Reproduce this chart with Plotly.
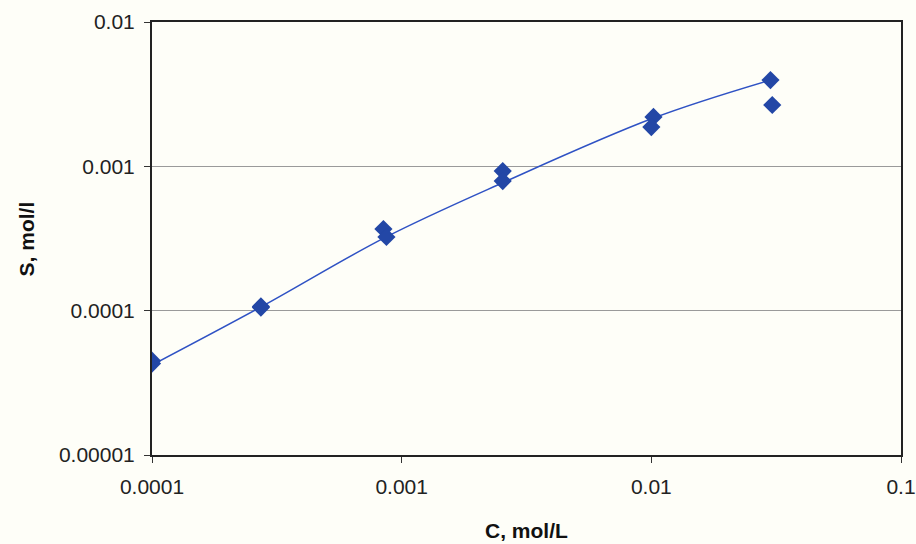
import plotly.graph_objects as go

# measured data points
c_points = [1.0e-4, 1.0e-4, 2.73e-4, 2.73e-4, 8.45e-4, 8.69e-4, 2.54e-3, 2.54e-3, 1.02e-2, 1.0e-2, 3.0e-2, 3.05e-2]
s_points = [4.5e-5, 4.3e-5, 1.07e-4, 1.05e-4, 3.68e-4, 3.24e-4, 9.27e-4, 7.91e-4, 2.20e-3, 1.87e-3, 3.96e-3, 2.66e-3]

# fitted curve
c_line = [1.0e-4, 2.73e-4, 8.6e-4, 2.54e-3, 1.02e-2, 3.0e-2]
s_line = [4.2e-5, 1.06e-4, 3.22e-4, 7.7e-4, 2.16e-3, 3.96e-3]

x_tickvals = [1e-4, 1e-3, 1e-2, 1e-1]
x_ticktext = ["0.0001", "0.001", "0.01", "0.1"]
y_tickvals = [1e-5, 1e-4, 1e-3, 1e-2]
y_ticktext = ["0.00001", "0.0001", "0.001", "0.01"]

fig = go.Figure()
fig.add_trace(go.Scatter(x=c_line, y=s_line, mode="lines",
                         line=dict(color="#2f52c4", width=1.5, shape="spline"),
                         showlegend=False, hoverinfo="skip"))
fig.add_trace(go.Scatter(x=c_points, y=s_points, mode="markers",
                         marker=dict(symbol="diamond", size=14, color="#2347a6"),
                         showlegend=False))

fam = "Liberation Sans, Arial, sans-serif"
axis_font = dict(family=fam, size=21, color="#222")
fig.update_layout(
    width=916, height=544,
    margin=dict(l=152, r=15, t=22, b=89),
    paper_bgcolor="#fefef8", plot_bgcolor="#fefef8",
    font=axis_font,
    xaxis=dict(type="log", range=[-4, -1], tickvals=x_tickvals, ticktext=x_ticktext,
               showgrid=False, ticks="outside", ticklen=6, tickcolor="#333",
               showline=True, linecolor="#222", linewidth=2, mirror=True,
               zeroline=False, tickfont=axis_font, automargin=False,
               ticklabelstandoff=6),
    yaxis=dict(type="log", range=[-5, -2], tickvals=y_tickvals, ticktext=y_ticktext,
               showgrid=True, gridcolor="#9a9a9a", gridwidth=1,
               ticks="outside", ticklen=6, tickcolor="#333",
               showline=True, linecolor="#222", linewidth=2, mirror=True,
               zeroline=False, tickfont=axis_font, automargin=False,
               ticklabelstandoff=5),
    annotations=[
        dict(text="<b>C, mol/L</b>", xref="paper", yref="paper", x=0.5, y=-0.175,
             xanchor="center", yanchor="middle", showarrow=False,
             font=dict(family=fam, size=21, color="#111")),
        dict(text="<b>S, mol/l</b>", xref="paper", yref="paper", x=-0.167, y=0.5,
             xanchor="center", yanchor="middle", showarrow=False, textangle=-90,
             font=dict(family=fam, size=21, color="#111")),
    ],
)

fig.write_html("out.html")
